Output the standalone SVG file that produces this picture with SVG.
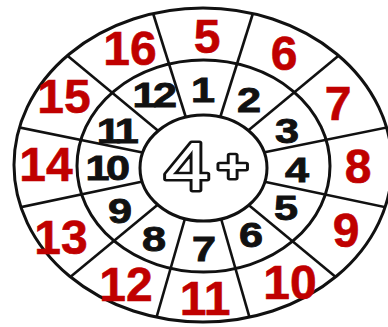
<svg xmlns="http://www.w3.org/2000/svg" width="388" height="327" viewBox="0 0 388 327">
<style>
.ring{fill:none;stroke:#111;stroke-width:3}
.spk{stroke:#111;stroke-width:2.6;stroke-linecap:butt}
.red{font-family:"Liberation Sans",Arial,sans-serif;font-weight:bold;font-size:48px;fill:#c00000;stroke:#c00000;stroke-width:0.6;text-anchor:middle}
.blk{font-family:"Liberation Sans",Arial,sans-serif;font-weight:bold;font-size:36px;fill:#111;stroke:#111;stroke-width:0.9;text-anchor:middle}
.two{letter-spacing:-3px}
.ctr{font-family:"Liberation Sans",Arial,sans-serif;fill:#fff;stroke:#111;stroke-width:5;stroke-linejoin:round;paint-order:stroke;text-anchor:middle}
</style>
<defs>
<clipPath id="ringclip">
<path clip-rule="evenodd" d="M14,165 a189,157 0 1,0 378,0 a189,157 0 1,0 -378,0 Z M140,168 a63.5,53 0 1,0 127,0 a63.5,53 0 1,0 -127,0 Z"/>
</clipPath>
</defs>
<rect width="388" height="327" fill="#fff"/>
<g id="wheel">
<ellipse class="ring" cx="203" cy="165" rx="189" ry="157" fill="#fff"/>
<ellipse class="ring" cx="203.5" cy="166" rx="126.5" ry="106"/>
</g>
<g id="connectors" clip-path="url(#ringclip)">
<line class="spk" x1="187" y1="121" x2="152" y2="10"/>
<line class="spk" x1="219" y1="121" x2="254" y2="10"/>
<line class="spk" x1="162" y1="134" x2="63" y2="52"/>
<line class="spk" x1="244" y1="134" x2="343" y2="52"/>
<line class="spk" x1="145" y1="153" x2="12" y2="126"/>
<line class="spk" x1="261" y1="153" x2="394" y2="126"/>
<line class="spk" x1="145" y1="181" x2="12" y2="209"/>
<line class="spk" x1="261" y1="181" x2="394" y2="209"/>
<line class="spk" x1="161" y1="202" x2="63" y2="283"/>
<line class="spk" x1="245" y1="202" x2="343" y2="283"/>
<line class="spk" x1="186" y1="215" x2="154" y2="326"/>
<line class="spk" x1="220" y1="215" x2="252" y2="326"/>
</g>
<g id="center">
<ellipse class="ring" cx="203.5" cy="168" rx="63.5" ry="53" fill="#fff"/>
<text class="ctr" transform="translate(187,0) scale(1.2,1)"><tspan x="0" y="190.5" font-size="68">4</tspan><tspan x="38" y="182.5" font-size="44" font-weight="bold">+</tspan></text>
</g>
<g id="inner-numbers">
<text class="blk" transform="translate(203,102) scale(1.2,1)">1</text>
<text class="blk" transform="translate(249,112) scale(1.2,1)">2</text>
<text class="blk" transform="translate(287,143) scale(1.2,1)">3</text>
<text class="blk" transform="translate(297,182) scale(1.2,1)">4</text>
<text class="blk" transform="translate(286,220) scale(1.2,1)">5</text>
<text class="blk" transform="translate(251,247) scale(1.2,1)">6</text>
<text class="blk" transform="translate(204,261) scale(1.2,1)">7</text>
<text class="blk" transform="translate(154,251) scale(1.2,1)">8</text>
<text class="blk" transform="translate(120,223) scale(1.2,1)">9</text>
<text class="blk two" transform="translate(106,180) scale(1.2,1)">10</text>
<text class="blk two" transform="translate(116,143) scale(1.2,1)">11</text>
<text class="blk two" transform="translate(153,107) scale(1.2,1)">12</text>
</g>
<g id="outer-numbers">
<text class="red" x="207" y="53">5</text>
<text class="red" x="284" y="70">6</text>
<text class="red" x="338" y="120">7</text>
<text class="red" x="358" y="183">8</text>
<text class="red" x="346" y="247">9</text>
<text class="red" x="290" y="299">10</text>
<text class="red" x="205" y="315">11</text>
<text class="red" x="126" y="301">12</text>
<text class="red" x="61" y="254">13</text>
<text class="red" x="46" y="181">14</text>
<text class="red" x="64" y="113">15</text>
<text class="red" x="130" y="65">16</text>
</g>
</svg>
